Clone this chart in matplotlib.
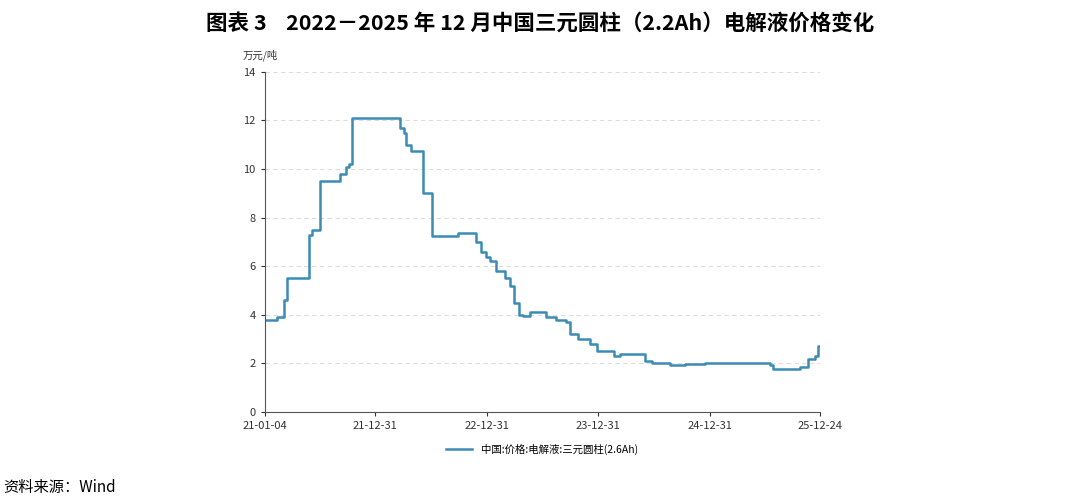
import matplotlib
matplotlib.use("Agg")
import matplotlib.pyplot as plt
import pandas as pd

plt.rcParams['font.family'] = ['Noto Sans CJK SC', 'DejaVu Sans']

# =========================
# DATOS
# =========================
fechas = ["2021-01-04", "2021-02-12", "2021-03-10", "2021-03-17", "2021-05-28",
          "2021-06-07", "2021-07-03", "2021-09-06", "2021-09-26", "2021-10-06",
          "2021-10-16", "2022-03-22", "2022-04-04", "2022-04-11", "2022-04-27",
          "2022-06-05", "2022-07-05", "2022-09-28", "2022-11-26", "2022-12-12",
          "2022-12-28", "2023-01-10", "2023-02-01", "2023-02-28", "2023-03-16",
          "2023-04-01", "2023-04-15", "2023-04-28", "2023-05-21", "2023-06-22",
          "2023-07-12", "2023-08-14", "2023-09-15", "2023-09-28", "2023-10-25",
          "2023-12-03", "2023-12-26", "2024-02-19", "2024-03-10", "2024-05-15",
          "2024-05-31", "2024-06-23", "2024-08-21", "2024-10-09", "2024-12-13",
          "2025-04-07", "2025-07-14", "2025-07-24", "2025-09-17", "2025-10-20",
          "2025-11-15", "2025-12-08", "2025-12-20", "2025-12-24"]
precios = [3.8, 3.9, 4.6, 5.5, 7.3,
           7.5, 9.5, 9.8, 10.1, 10.2,
           12.1, 11.7, 11.5, 11.0, 10.75,
           9.0, 7.25, 7.35, 7.0, 6.6,
           6.4, 6.2, 5.8, 5.5, 5.2,
           4.5, 4.0, 3.95, 4.1, 4.1,
           3.9, 3.8, 3.7, 3.2, 3.0,
           2.8, 2.5, 2.3, 2.4, 2.4,
           2.1, 2.0, 1.95, 1.97, 2.0,
           2.0, 1.95, 1.75, 1.75, 1.85,
           2.2, 2.3, 2.7, 2.7]

tick_fechas = ["2021-01-04", "2021-12-31", "2022-12-31", "2023-12-31", "2024-12-31", "2025-12-24"]
tick_labels = ["21-01-04", "21-12-31", "22-12-31", "23-12-31", "24-12-31", "25-12-24"]

x = pd.to_datetime(fechas)

# =========================
# FIGURA
# =========================
fig = plt.figure(figsize=(10.8, 5.04), dpi=100)
ax = fig.add_axes([0.245, 0.1825, 0.514, 0.675])

ax.plot(x, precios, drawstyle="steps-post", color="#3b8bb5", linewidth=1.8,
        label="中国:价格:电解液:三元圆柱(2.6Ah)")

ax.set_xlim(pd.Timestamp(tick_fechas[0]), pd.Timestamp(tick_fechas[-1]))
ax.set_xticks(pd.to_datetime(tick_fechas))
ax.set_xticklabels(tick_labels)
ax.set_ylim(0, 14)
ax.set_yticks(range(0, 15, 2))

ax.yaxis.grid(True, linestyle=(0, (4, 3)), color="#dddddd", linewidth=0.8)
for s in ["top", "right"]:
    ax.spines[s].set_visible(False)
ax.spines["left"].set_color("#555555")
ax.spines["bottom"].set_color("#555555")
ax.tick_params(labelsize=8, colors="#333333", length=3)

ax.text(-0.04, 1.04, "万元/吨", transform=ax.transAxes, fontsize=7.5, color="#333333")

ax.legend(loc="upper center", bbox_to_anchor=(0.5, -0.065), frameon=False,
          fontsize=7.5, handlelength=2.5)

fig.text(0.5, 0.955, "图表 3    2022－2025 年 12 月中国三元圆柱（2.2Ah）电解液价格变化",
         ha="center", va="center", fontsize=15.5, fontweight="bold")
fig.text(0.003, 0.033, "资料来源：Wind", fontsize=11, va="center")

fig.savefig("out.png", dpi=100)
